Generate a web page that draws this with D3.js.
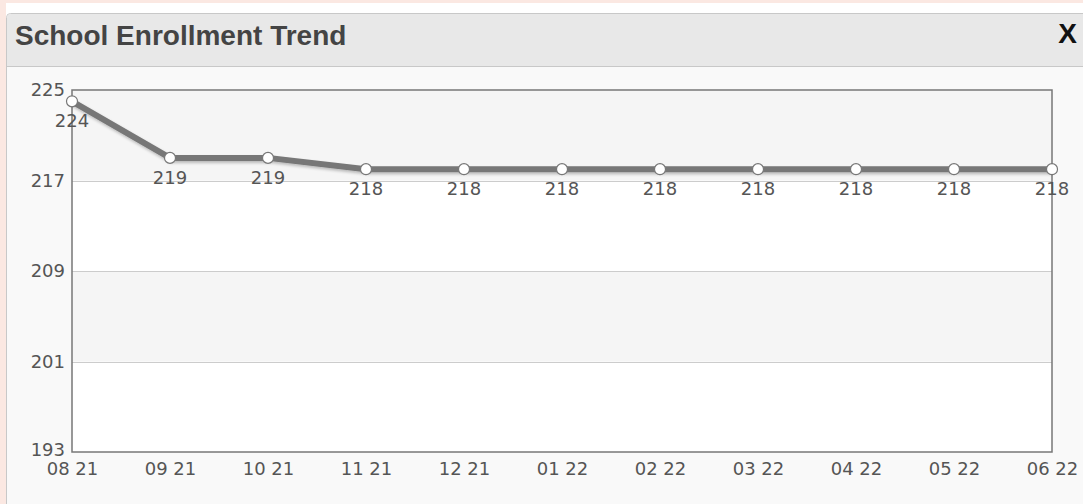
<!DOCTYPE html>
<html>
<head>
<meta charset="utf-8">
<script src="https://cdn.jsdelivr.net/npm/d3@7/dist/d3.min.js"></script>
<style>
  html, body { margin: 0; padding: 0; }
  body { width: 1083px; height: 504px; background: #fbe8e2; overflow: hidden; }
  svg { display: block; }
</style>
</head>
<body>
<svg id="chart" width="1083" height="504"></svg>
<script>
// data
const months = ['08 21', '09 21', '10 21', '11 21', '12 21', '01 22', '02 22', '03 22', '04 22', '05 22', '06 22']
const enrollment = [224, 219, 219, 218, 218, 218, 218, 218, 218, 218, 218]
const yTicks = [193, 201, 209, 217, 225]
const title = 'School Enrollment Trend'

const svg = d3.select('#chart')
const W = 1083, H = 504

// panel
svg.append('rect').attr('x', 6).attr('y', 3).attr('width', W).attr('height', H).attr('fill', '#ffffff')
svg.append('rect').attr('x', 6.5).attr('y', 13.5).attr('width', W).attr('height', H).attr('rx', 4)
  .attr('fill', '#f9f9f9').attr('stroke', '#c8c8c8').attr('stroke-width', 1)
svg.append('path')
  .attr('d', `M7,66 L7,18 Q7,14 11,14 L${W},14 L${W},66 Z`)
  .attr('fill', '#e8e8e8')
svg.append('line').attr('x1', 7).attr('x2', W).attr('y1', 66.5).attr('y2', 66.5)
  .attr('stroke', '#c8c8c8')

svg.append('text').attr('x', 15).attr('y', 45)
  .attr('font-family', 'Liberation Sans, Arial, sans-serif')
  .attr('font-weight', 'bold').attr('font-size', 28).attr('fill', '#444')
  .text(title)
svg.append('text').attr('x', 1077).attr('y', 43).attr('text-anchor', 'end')
  .attr('font-family', 'Liberation Sans, Arial, sans-serif')
  .attr('font-weight', 'bold').attr('font-size', 28).attr('fill', '#111')
  .text('X')

// plot
const margin = { left: 72, top: 90, right: 1052, bottom: 452 }
const x = d3.scalePoint().domain(months).range([margin.left, margin.right])
const y = d3.scaleLinear().domain([193, 225]).range([margin.bottom, margin.top])

const g = svg.append('g')

// alternating bands
const bands = d3.pairs(yTicks)
g.selectAll('.band').data(bands).enter().append('rect')
  .attr('class', 'band')
  .attr('x', margin.left).attr('width', margin.right - margin.left)
  .attr('y', d => y(d[1])).attr('height', d => y(d[0]) - y(d[1]))
  .attr('fill', (d, i) => i % 2 === 0 ? '#ffffff' : '#f5f5f5')

// grid lines
g.selectAll('.grid').data(yTicks.slice(1, -1)).enter().append('line')
  .attr('x1', margin.left).attr('x2', margin.right)
  .attr('y1', d => Math.round(y(d)) + 0.5).attr('y2', d => Math.round(y(d)) + 0.5)
  .attr('stroke', '#cccccc').attr('stroke-width', 1.2)

// frame
g.append('rect')
  .attr('x', margin.left).attr('y', margin.top)
  .attr('width', margin.right - margin.left).attr('height', margin.bottom - margin.top)
  .attr('fill', 'none').attr('stroke', '#777').attr('stroke-width', 1.5)

const font = 'DejaVu Sans, Verdana, sans-serif'

// y axis labels
const yAxis = d3.axisLeft(y).tickValues(yTicks).tickSize(0).tickPadding(7)
const yg = g.append('g').attr('transform', `translate(${margin.left},0)`).call(yAxis)
yg.select('.domain').remove()
yg.selectAll('text').attr('font-family', font).attr('font-size', 18).attr('fill', '#555')
  .attr('dy', d => d === 193 ? '0.2em' : '0.32em')

// x axis labels
const xAxis = d3.axisBottom(x).tickSize(0).tickPadding(10)
const xg = g.append('g').attr('transform', `translate(0,${margin.bottom})`).call(xAxis)
xg.select('.domain').remove()
xg.selectAll('text').attr('font-family', font).attr('font-size', 18).attr('fill', '#555')

// line with shadow
const defs = svg.append('defs')
const f = defs.append('filter').attr('id', 'shadow').attr('x', '-5%').attr('y', '-50%').attr('width', '110%').attr('height', '200%')
f.append('feGaussianBlur').attr('in', 'SourceAlpha').attr('stdDeviation', 1.5)
f.append('feOffset').attr('dx', 1).attr('dy', 2).attr('result', 'b')
f.append('feComponentTransfer').append('feFuncA').attr('type', 'linear').attr('slope', 0.25)
const fm = f.append('feMerge')
fm.append('feMergeNode')
fm.append('feMergeNode').attr('in', 'SourceGraphic')

const pts = months.map((m, i) => ({ m, v: enrollment[i] }))
const line = d3.line().x(d => x(d.m)).y(d => y(d.v))
g.append('path').datum(pts)
  .attr('d', line)
  .attr('fill', 'none').attr('stroke', '#777').attr('stroke-width', 6)
  .attr('stroke-linejoin', 'round')
  .attr('filter', 'url(#shadow)')

g.selectAll('.pt').data(pts).enter().append('circle')
  .attr('cx', d => x(d.m)).attr('cy', d => y(d.v)).attr('r', 5.5)
  .attr('fill', '#fff').attr('stroke', '#777').attr('stroke-width', 1.2)

g.selectAll('.lbl').data(pts).enter().append('text')
  .attr('x', d => x(d.m)).attr('y', d => y(d.v) + 26)
  .attr('text-anchor', 'middle')
  .attr('font-family', font).attr('font-size', 18).attr('fill', '#555')
  .text(d => d.v)
</script>
</body>
</html>
